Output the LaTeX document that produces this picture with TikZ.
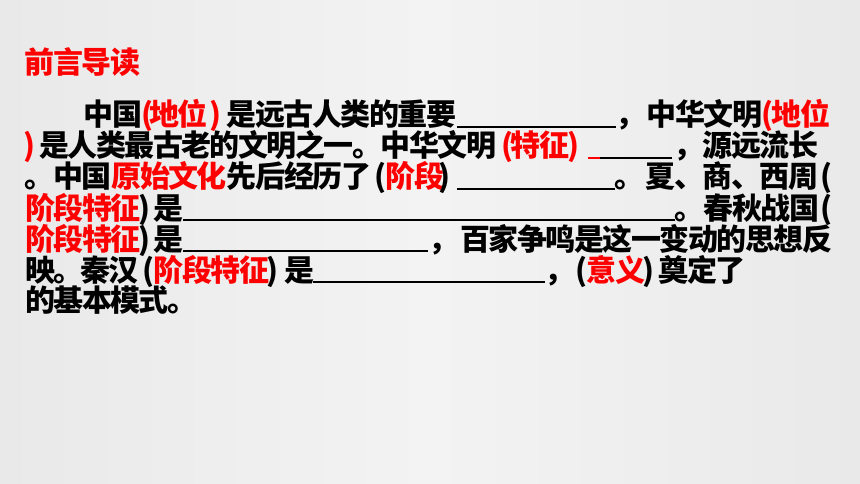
\documentclass[tikz,border=0pt]{standalone}
\usepackage{fontspec}
\newfontfamily\cjk{Noto Sans CJK SC}[LetterSpace=-5]
\definecolor{hlred}{HTML}{FF0000}
\definecolor{bgmid}{HTML}{F3F3F3}
\definecolor{bgedge}{HTML}{E9E9E9}
\tikzset{
  txt/.style={anchor=base west, inner sep=0pt, outer sep=0pt, text=black,
              font=\cjk\bfseries\fontsize{30}{32}\selectfont},
  rtxt/.style={txt, text=hlred},
  blankline/.style={line width=1.4pt, draw=black},
  rblankline/.style={line width=1.4pt, draw=hlred}
}
\begin{document}
\begin{tikzpicture}[x=1pt,y=-1pt]
\useasboundingbox (0,0) rectangle (860,484);
\shade[left color=bgedge, right color=bgedge, middle color=bgmid] (0,0) rectangle (860,484);

% title
\node[rtxt] (title) at (24.5,74) {前言导读};

% line 1
\node[txt]  (l1a) at (83.5,126) {中国};
\node[rtxt] (l1b) at (141,126) {(};
\node[rtxt] (l1c) at (149.2,126) {地位};
\node[rtxt] (l1d) at (209.5,126) {)};
\node[txt]  (l1e) at (226.5,126) {是远古人类的重要};
\coordinate (b1s) at (457,127);
\coordinate (b1e) at (616,127);
\draw[blankline] (b1s) -- (b1e);
\node[txt]  (l1f) at (615.5,126) {，};
\node[txt]  (l1g) at (646.5,126) {中华文明};
\node[rtxt] (l1h) at (761.5,126) {(};
\node[rtxt] (l1i) at (771.5,126) {地位};

% line 2
\node[rtxt] (l2a) at (23.5,157) {)};
\node[txt]  (l2b) at (39,157) {是人类最古老的文明之一。中华文明};
\node[rtxt] (l2c) at (501.5,157) {(};
\node[rtxt] (l2d) at (510.5,157) {特征};
\node[rtxt] (l2e) at (567,157) {)};
\coordinate (b2s) at (588,158);
\coordinate (b2m) at (600,158);
\coordinate (b2e) at (672,158);
\draw[rblankline] (b2s) -- (b2m);
\draw[blankline] (b2m) -- (b2e);
\node[txt]  (l2f) at (673.5,157) {，};
\node[txt]  (l2g) at (702.5,157) {源远流长};

% line 3
\node[txt]  (l3a) at (24.5,188) {。中国\textcolor{hlred}{原始文化}先后经历了};
\node[txt]  (l3b) at (374,188) {(};
\node[rtxt] (l3c) at (385.5,188) {阶段};
\node[txt]  (l3d) at (438,188) {)};
\coordinate (b3s) at (457,189);
\coordinate (b3e) at (615,189);
\draw[blankline] (b3s) -- (b3e);
\node[txt]  (l3e) at (614.5,188) {。};
\node[txt]  (l3f) at (645.5,188) {夏、商、西周};
\node[txt]  (l3g) at (820,188) {(};

% line 4
\node[rtxt] (l4a) at (25,219) {阶段特征};
\node[txt]  (l4b) at (138.5,219) {)};
\node[txt]  (l4c) at (153.5,219) {是};
\coordinate (b4s) at (183,220);
\coordinate (b4e) at (675,220);
\draw[blankline] (b4s) -- (b4e);
\node[txt]  (l4d) at (674.5,219) {。};
\node[txt]  (l4e) at (703.5,219) {春秋战国};
\node[txt]  (l4f) at (820,219) {(};

% line 5
\node[rtxt] (l5a) at (25,250) {阶段特征};
\node[txt]  (l5b) at (138.5,250) {)};
\node[txt]  (l5c) at (153.5,250) {是};
\coordinate (b5s) at (183,251);
\coordinate (b5e) at (428,251);
\draw[blankline] (b5s) -- (b5e);
\node[txt]  (l5d) at (428.5,250) {，};
\node[txt]  (l5e) at (460,250) {百家争鸣是这一变动的思想反};

% line 6
\node[txt]  (l6a) at (25,281) {映。};
\node[txt]  (l6b) at (80,281) {秦汉};
\node[txt]  (l6c) at (142,281) {(};
\node[rtxt] (l6d) at (153.5,281) {阶段特征};
\node[txt]  (l6e) at (266,281) {)};
\node[txt]  (l6f) at (284.5,281) {是};
\coordinate (b6s) at (313,282);
\coordinate (b6e) at (545,282);
\draw[blankline] (b6s) -- (b6e);
\node[txt]  (l6g) at (544.5,281) {，};
\node[txt]  (l6h) at (575,281) {(};
\node[rtxt] (l6i) at (586.5,281) {意义};
\node[txt]  (l6j) at (642.5,281) {)};
\node[txt]  (l6k) at (658.5,281) {奠定了};

% line 7
\node[txt]  (l7a) at (25,311.5) {的基本模式。};
\end{tikzpicture}
\end{document}
